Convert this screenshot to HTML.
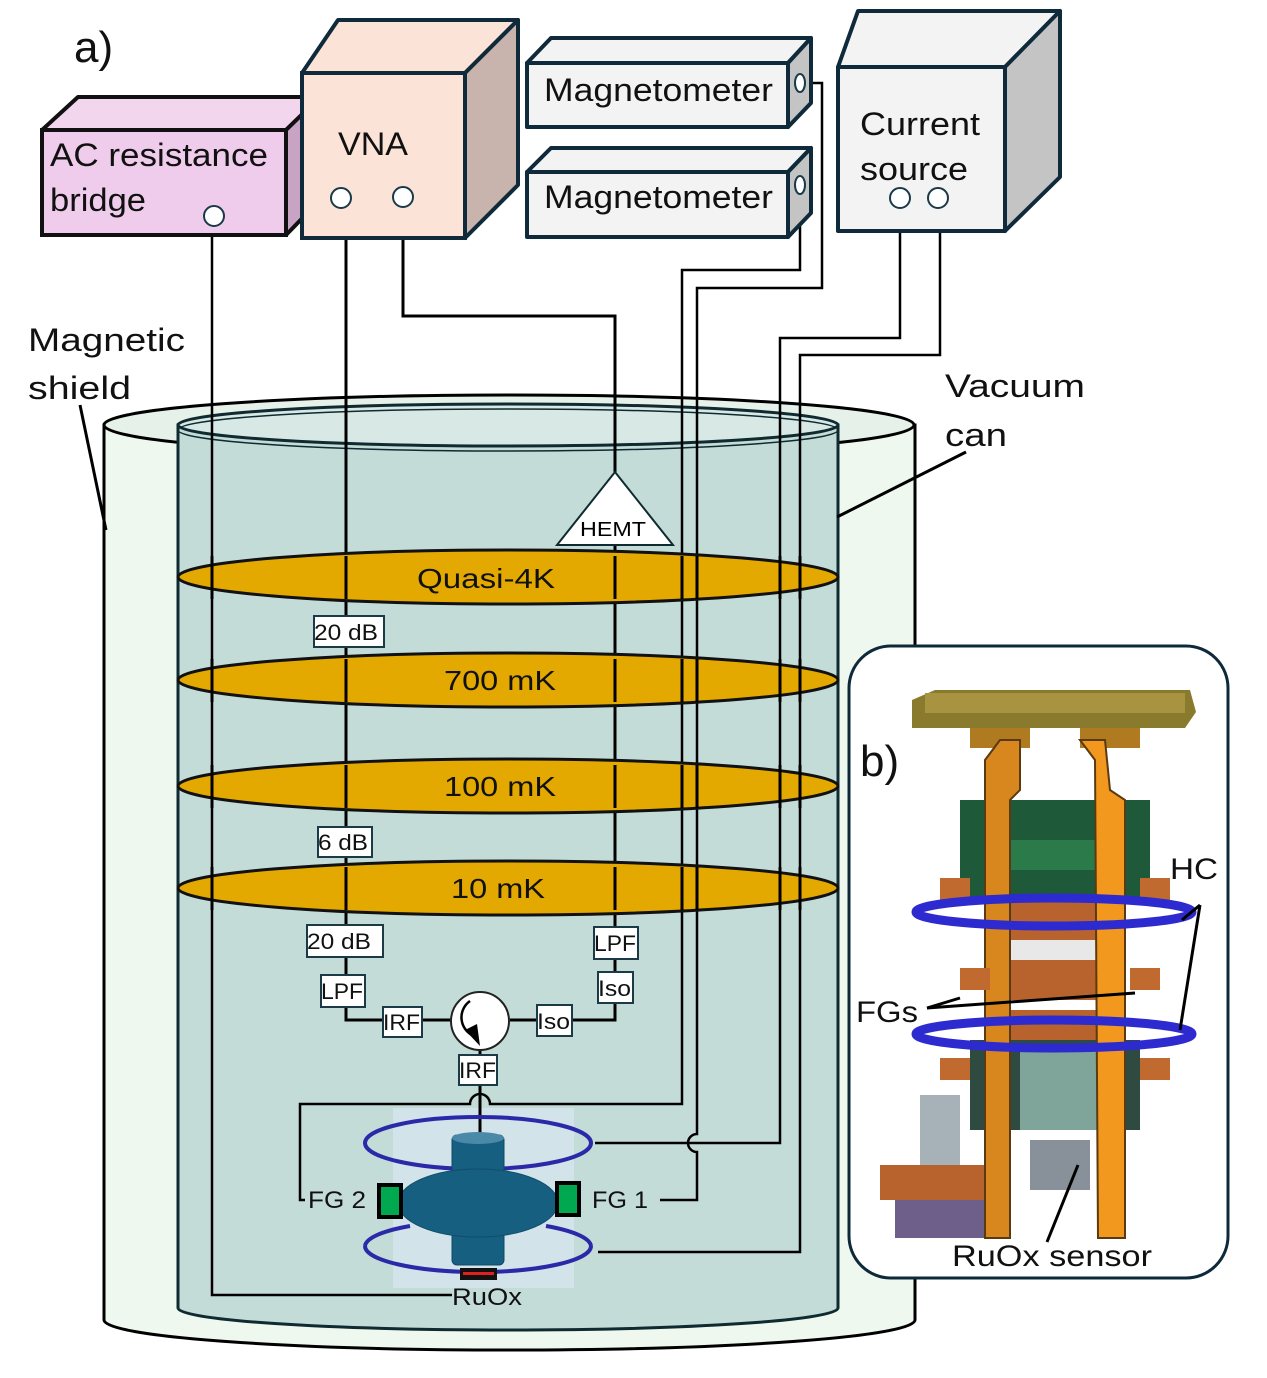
<!DOCTYPE html>
<html><head><meta charset="utf-8"><style>
html,body{margin:0;padding:0;background:#fff;}
svg{display:block;font-family:"Liberation Sans",sans-serif;}
</style></head><body>
<svg width="1267" height="1378" viewBox="0 0 1267 1378" xmlns="http://www.w3.org/2000/svg">
<rect width="1267" height="1378" fill="#fff"/>
<path d="M104,425 L104,1320 A405,30 0 0 0 915,1320 L915,425 Z" fill="#eff8ee" stroke="#000" stroke-width="3"/>
<ellipse cx="509" cy="425" rx="405" ry="30" fill="#e6f1ea" stroke="#000" stroke-width="3"/>
<path d="M178,425 L178,1308 A330,22 0 0 0 838,1308 L838,425 Z" fill="#c4dcd8" stroke="#0f2a30" stroke-width="3"/>
<ellipse cx="508" cy="425" rx="330" ry="21" fill="#d8e9e5" stroke="#0f2a30" stroke-width="3"/>
<ellipse cx="508" cy="430" rx="330" ry="21" fill="none" stroke="#0f2a30" stroke-width="1.5"/>

<rect x="393" y="1108" width="181" height="180" fill="#d3e3ea"/>

<g fill="none" stroke="#000" stroke-width="3">
<path d="M212,216 L212,1295 L452,1295" stroke-width="2.5"/>
<path d="M346,206 L346,1020 L385,1020"/>
<path d="M422,1020 L452,1020"/>
<path d="M510,1020 L537,1020"/>
<path d="M572,1020 L615,1020 L615,545"/>
<path d="M403,206 L403,316 L615,316 L615,472"/>
<path d="M480,1050 L480,1135"/>
<path d="M807,83 L822,83 L822,288 L697,288 L697,1134 A9,9 0 0 0 697,1152 L697,1200 L660,1200" stroke-width="2.5"/>
<path d="M800,192 L800,270 L682,270 L682,1104 L490,1104 A10,10 0 0 0 470,1104 L300,1104 L300,1200 L305,1200" stroke-width="2.5"/>
<path d="M900,206 L900,338 L780,338 L780,1143 L595,1143" stroke-width="2.5"/>
<path d="M940,206 L940,355 L800,355 L800,1252 L598,1252" stroke-width="2.5"/>
</g>

<g fill="#e3a900" stroke="#111" stroke-width="3">
<ellipse cx="508" cy="577" rx="330" ry="27"/>
<ellipse cx="508" cy="680" rx="330" ry="27"/>
<ellipse cx="508" cy="786" rx="330" ry="27"/>
<ellipse cx="508" cy="888" rx="330" ry="27"/>
</g>
<path fill="none" stroke="#000" stroke-width="3" d="
M212,556V599 M346,556V599 M615,556V599 M682,556V599 M697,556V599 M780,556V599 M800,556V599
M212,659V702 M346,659V702 M615,659V702 M682,659V702 M697,659V702 M780,659V702 M800,659V702
M212,765V808 M346,765V808 M615,765V808 M682,765V808 M697,765V808 M780,765V808 M800,765V808
M212,867V910 M346,867V910 M615,867V910 M682,867V910 M697,867V910 M780,867V910 M800,867V910"/>
<g font-size="28" fill="#111" text-anchor="middle">
<text x="486" y="588" textLength="138" lengthAdjust="spacingAndGlyphs">Quasi-4K</text>
<text x="500" y="690" textLength="112" lengthAdjust="spacingAndGlyphs">700 mK</text>
<text x="500" y="796" textLength="112" lengthAdjust="spacingAndGlyphs">100 mK</text>
<text x="498" y="898" textLength="94" lengthAdjust="spacingAndGlyphs">10 mK</text>
</g>

<polygon points="615,472 557,545 673,545" fill="#fff" stroke="#0f2a30" stroke-width="2"/>
<text x="613" y="536" font-size="20" text-anchor="middle" textLength="66" lengthAdjust="spacingAndGlyphs">HEMT</text>

<g fill="#fff" stroke="#1a3a48" stroke-width="2">
<rect x="314" y="616" width="70" height="31"/>
<rect x="318" y="827" width="54" height="30"/>
<rect x="307" y="925" width="76" height="32"/>
<rect x="321" y="975" width="44" height="32"/>
<rect x="383" y="1007" width="39" height="30"/>
<rect x="537" y="1005" width="35" height="31"/>
<rect x="598" y="972" width="35" height="31"/>
<rect x="594" y="927" width="44" height="32"/>
<rect x="459" y="1055" width="38" height="30"/>
</g>
<g font-size="22" fill="#111" lengthAdjust="spacingAndGlyphs">
<text x="314" y="640" textLength="64" lengthAdjust="spacingAndGlyphs">20 dB</text>
<text x="318" y="850" textLength="50" lengthAdjust="spacingAndGlyphs">6 dB</text>
<text x="307" y="949" textLength="64" lengthAdjust="spacingAndGlyphs">20 dB</text>
<text x="321" y="999" textLength="42" lengthAdjust="spacingAndGlyphs">LPF</text>
<text x="383" y="1030" textLength="37" lengthAdjust="spacingAndGlyphs">IRF</text>
<text x="537" y="1029" textLength="33" lengthAdjust="spacingAndGlyphs">Iso</text>
<text x="598" y="996" textLength="33" lengthAdjust="spacingAndGlyphs">Iso</text>
<text x="594" y="951" textLength="42" lengthAdjust="spacingAndGlyphs">LPF</text>
<text x="459" y="1078" textLength="37" lengthAdjust="spacingAndGlyphs">IRF</text>
</g>
<circle cx="480" cy="1021" r="29" fill="#fff" stroke="#222" stroke-width="2"/>
<path d="M470,1001 A20,20 0 0 0 472,1035" fill="none" stroke="#000" stroke-width="2.5"/>
<polygon points="465,1030 480,1046 477,1024" fill="#000"/>

<ellipse cx="478" cy="1143" rx="113" ry="26" fill="none" stroke="#2a2aa8" stroke-width="4"/>
<rect x="452" y="1135" width="52" height="130" rx="5" fill="#165f80" stroke="#0f4a66" stroke-width="1"/>
<ellipse cx="478" cy="1138" rx="26" ry="6" fill="#4a89a8"/>
<ellipse cx="478" cy="1203" rx="80" ry="34" fill="#165f80" stroke="#104e6a" stroke-width="1"/>
<path d="M365,1246 A113,26 0 0 0 591,1246" fill="none" stroke="#2a2aa8" stroke-width="4"/>
<path d="M365,1246 A113,26 0 0 1 410,1226 M546,1226 A113,26 0 0 1 591,1246" fill="none" stroke="#2a2aa8" stroke-width="4"/>
<rect x="460" y="1268" width="37" height="12" fill="#111"/>
<rect x="463" y="1272" width="31" height="3" fill="#e02020"/>
<rect x="379" y="1185" width="22" height="32" fill="#00a84f" stroke="#000" stroke-width="4"/>
<rect x="557" y="1183" width="22" height="32" fill="#00a84f" stroke="#000" stroke-width="4"/>
<g font-size="24" fill="#111">
<text x="308" y="1208" textLength="58" lengthAdjust="spacingAndGlyphs">FG 2</text>
<text x="592" y="1208" textLength="56" lengthAdjust="spacingAndGlyphs">FG 1</text>
<text x="452" y="1305" textLength="70" lengthAdjust="spacingAndGlyphs">RuOx</text>
</g>

<polygon points="42,130 78,97 320,97 286,130" fill="#f2d6ee" stroke="#111" stroke-width="4" stroke-linejoin="round"/>
<polygon points="286,130 320,97 320,200 286,235" fill="#c9a3c3" stroke="#111" stroke-width="4" stroke-linejoin="round"/>
<rect x="42" y="130" width="244" height="105" fill="#f0ccec" stroke="#111" stroke-width="4"/>
<circle cx="214" cy="216" r="10" fill="#fff" stroke="#1a3a48" stroke-width="2"/>
<text x="50" y="166" font-size="32" fill="#111" textLength="218" lengthAdjust="spacingAndGlyphs">AC resistance</text>
<text x="50" y="211" font-size="32" fill="#111" textLength="96" lengthAdjust="spacingAndGlyphs">bridge</text>

<polygon points="302,73 338,20 518,20 465,73" fill="#fbe3d8" stroke="#0f2a3a" stroke-width="4" stroke-linejoin="round"/>
<polygon points="465,73 518,20 518,185 465,238" fill="#c8b4ad" stroke="#0f2a3a" stroke-width="4" stroke-linejoin="round"/>
<rect x="302" y="73" width="163" height="165" fill="#fbe3d8" stroke="#0f2a3a" stroke-width="4"/>
<text x="338" y="155" font-size="32" fill="#111" textLength="70" lengthAdjust="spacingAndGlyphs">VNA</text>
<circle cx="341" cy="198" r="10" fill="#fff" stroke="#1a3a48" stroke-width="2"/>
<circle cx="403" cy="197" r="10" fill="#fff" stroke="#1a3a48" stroke-width="2"/>

<g stroke="#0f2a3a" stroke-width="4" stroke-linejoin="round">
<polygon points="527,63 551,38 811,38 788,63" fill="#f3f3f3"/>
<polygon points="788,63 811,38 811,103 788,127" fill="#c4c4c4"/>
<rect x="527" y="63" width="261" height="64" fill="#f3f3f3"/>
<polygon points="527,172 551,148 811,148 788,172" fill="#f3f3f3"/>
<polygon points="788,172 811,148 811,213 788,237" fill="#c4c4c4"/>
<rect x="527" y="172" width="261" height="65" fill="#f3f3f3"/>
</g>
<ellipse cx="800" cy="83" rx="5" ry="9" fill="#fff" stroke="#1a3a48" stroke-width="2"/>
<ellipse cx="800" cy="185" rx="5" ry="9" fill="#fff" stroke="#1a3a48" stroke-width="2"/>
<text x="544" y="101" font-size="32" fill="#111" textLength="229" lengthAdjust="spacingAndGlyphs">Magnetometer</text>
<text x="544" y="208" font-size="32" fill="#111" textLength="229" lengthAdjust="spacingAndGlyphs">Magnetometer</text>

<g stroke="#0f2a3a" stroke-width="4" stroke-linejoin="round">
<polygon points="838,67 858,11 1060,11 1005,67" fill="#f3f3f3"/>
<polygon points="1005,67 1060,11 1060,177 1005,231" fill="#c4c4c4"/>
<rect x="838" y="67" width="167" height="164" fill="#f3f3f3"/>
</g>
<text x="860" y="135" font-size="32" fill="#111" textLength="120" lengthAdjust="spacingAndGlyphs">Current</text>
<text x="860" y="180" font-size="32" fill="#111" textLength="108" lengthAdjust="spacingAndGlyphs">source</text>
<circle cx="900" cy="198" r="10" fill="#fff" stroke="#1a3a48" stroke-width="2"/>
<circle cx="938" cy="198" r="10" fill="#fff" stroke="#1a3a48" stroke-width="2"/>

<text x="74" y="62" font-size="44" fill="#111">a)</text>
<text x="28" y="351" font-size="32" fill="#111" textLength="157" lengthAdjust="spacingAndGlyphs">Magnetic</text>
<text x="28" y="399" font-size="32" fill="#111" textLength="103" lengthAdjust="spacingAndGlyphs">shield</text>
<line x1="80" y1="405" x2="106" y2="530" stroke="#000" stroke-width="3"/>
<text x="945" y="397" font-size="32" fill="#111" textLength="140" lengthAdjust="spacingAndGlyphs">Vacuum</text>
<text x="945" y="446" font-size="32" fill="#111" textLength="62" lengthAdjust="spacingAndGlyphs">can</text>
<line x1="966" y1="452" x2="837" y2="517" stroke="#000" stroke-width="3"/>

<rect x="849" y="646" width="379" height="632" rx="42" fill="#fff" stroke="#0e2a3a" stroke-width="3"/>
<g>
<path d="M912,700 L935,690 L1190,690 L1196,712 L1185,728 L912,728 Z" fill="#8a7a2e"/>
<rect x="925" y="693" width="260" height="20" fill="#a89440"/>
<rect x="970" y="728" width="60" height="20" fill="#b07a20"/>
<rect x="1080" y="728" width="60" height="20" fill="#b07a20"/>
<rect x="960" y="800" width="190" height="100" fill="#1e5a3a"/>
<rect x="1010" y="840" width="90" height="30" fill="#2a7a4a"/>
<rect x="1010" y="900" width="90" height="40" fill="#b8632e"/>
<rect x="1010" y="940" width="90" height="20" fill="#e8e8e8"/>
<rect x="1010" y="960" width="90" height="40" fill="#b8632e"/>
<rect x="1010" y="1010" width="90" height="30" fill="#b8632e"/>
<rect x="970" y="1040" width="170" height="90" fill="#2f4a40"/>
<rect x="1020" y="1050" width="80" height="80" fill="#7fa59a"/>
<rect x="1030" y="1140" width="60" height="50" fill="#889099"/>
<rect x="920" y="1095" width="40" height="110" fill="#a7b2b8"/>
<rect x="880" y="1165" width="110" height="35" fill="#b8632e"/>
<rect x="895" y="1200" width="90" height="38" fill="#6e5e8a"/>
<path d="M985,760 L1000,740 L1020,740 L1020,790 L1010,800 L1010,1238 L985,1238 Z" fill="#d8861e" stroke="#5a3a10" stroke-width="2"/>
<path d="M1095,760 L1080,740 L1105,740 L1110,790 L1125,800 L1125,1238 L1098,1238 Z" fill="#f2981e" stroke="#5a3a10" stroke-width="2"/>
<rect x="940" y="878" width="30" height="22" fill="#c06a30"/>
<rect x="1140" y="878" width="30" height="22" fill="#c06a30"/>
<rect x="960" y="968" width="30" height="22" fill="#c06a30"/>
<rect x="1130" y="968" width="30" height="22" fill="#c06a30"/>
<rect x="940" y="1058" width="30" height="22" fill="#c06a30"/>
<rect x="1140" y="1058" width="30" height="22" fill="#c06a30"/>
<ellipse cx="1054" cy="912" rx="138" ry="14" fill="none" stroke="#2d2ad0" stroke-width="9"/>
<ellipse cx="1054" cy="1034" rx="138" ry="14" fill="none" stroke="#2d2ad0" stroke-width="9"/>
</g>
<text x="860" y="776" font-size="44" fill="#111">b)</text>
<text x="1170" y="879" font-size="30" fill="#111" textLength="48" lengthAdjust="spacingAndGlyphs">HC</text>
<text x="856" y="1022" font-size="30" fill="#111" textLength="62" lengthAdjust="spacingAndGlyphs">FGs</text>
<text x="952" y="1266" font-size="30" fill="#111" textLength="200" lengthAdjust="spacingAndGlyphs">RuOx sensor</text>
<g stroke="#000" stroke-width="3">
<line x1="1200" y1="905" x2="1182" y2="920"/>
<line x1="1200" y1="905" x2="1180" y2="1030"/>
<line x1="927" y1="1008" x2="960" y2="998"/>
<line x1="927" y1="1008" x2="1135" y2="993"/>
<line x1="1047" y1="1242" x2="1078" y2="1165"/>
</g>
</svg>
</body></html>
